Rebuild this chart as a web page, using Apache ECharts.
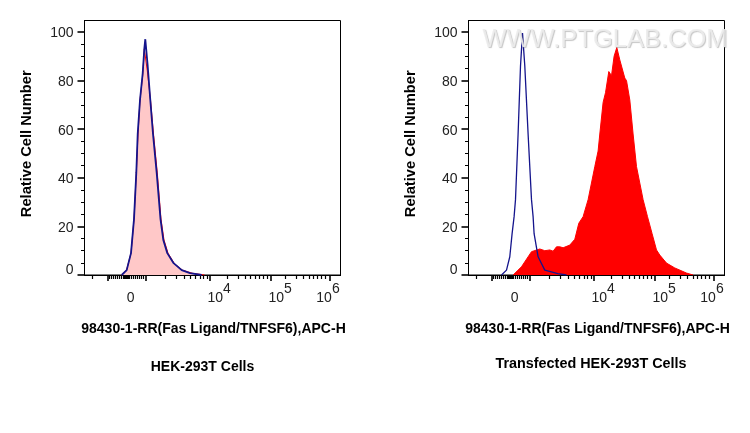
<!DOCTYPE html>
<html>
<head>
<meta charset="UTF-8">
<title>Fas Ligand flow cytometry</title>
<script src="https://cdn.jsdelivr.net/npm/echarts@6/dist/echarts.min.js"></script>
<style>
html, body { margin: 0; padding: 0; background: #fff; }
#main { width: 750px; height: 433px; }
</style>
</head>
<body>
<div id="main"></div>
<script type="text/javascript">
// x values are display channels of the biexponential axis (0-256)
var xMajorTicks = [23.2, 61.5, 125.5, 186.5, 244.8];
var xMinorTicks = [8.2, 25, 27, 29, 31, 33, 35, 37, 39, 40, 41, 42, 43, 44, 45, 47, 49, 51, 53, 55, 57, 59,
    81, 92, 100, 106, 111, 115.5, 119, 122.5,
    143, 154, 161, 166, 171, 175, 179, 183,
    201, 212, 219, 225, 229, 233, 237, 241];
var xLabelPlaces = [46.2, 134.7, 195.7, 243.5];
var xLabels = ['{b|0}', '{b|10}{s|4}', '{b|10}{s|5}', '{b|10}{s|6}'];
var yMajorTicks = [0, 20, 40, 60, 80, 100];
var yMinorTicks = [5, 10, 15, 25, 30, 35, 45, 50, 55, 65, 70, 75, 85, 90, 95];

// left panel: HEK-293T Cells
var leftRedX = [37, 42, 46.5, 49.5, 51.8, 53.5, 55.5, 58.2, 59.8, 62.8, 66, 69, 72.8, 76.5, 79.5, 83.5, 90, 98, 108, 120];
var leftRedY = [0, 2, 9, 23, 42, 58, 72, 82, 93, 84, 72, 58, 42, 23, 14.4, 9, 4.6, 2, 0.7, 0];
var leftBlueX = [37.2, 42.2, 46.5, 49.5, 51.8, 53.2, 55.5, 58.2, 59.8, 60.8, 63.2, 65.8, 68.5, 72.2, 76, 78.8, 82.8, 88.8, 97.2, 105.5, 117.2];
var leftBlueY = [0, 2, 9, 23, 42, 58, 72, 83, 93, 97, 86, 72, 58, 42, 23, 14.4, 9, 5, 2, 0.8, 0];

// right panel: Transfected HEK-293T Cells
var rightRedX = [44.6, 53, 63, 71.3, 76.3, 81.3, 84.6, 88, 91.3, 94.6, 101.3, 106.3, 110.3, 114.6, 119.6, 126.3, 129.6, 131.3, 134.6, 137, 140.3, 143, 145.6, 148.3, 151.3, 153, 156.3, 158, 161.3, 164.6, 168, 174.6, 179, 183.6, 188, 191.3, 198, 206.3, 218, 224.6];
var rightRedY = [0, 3.4, 9.6, 10.7, 10, 10.3, 9.8, 11.6, 11.6, 11.2, 12.3, 14.7, 21.3, 24, 31, 44.6, 51, 58, 71, 75, 83.7, 82, 90, 93.6, 88.5, 88.5, 81, 80, 72, 58, 44.6, 31, 24, 17, 10.3, 8.2, 4.9, 2.9, 0.8, 0];
var rightBlueX = [33, 38, 41.3, 43.6, 45.6, 47, 49.6, 52, 54, 56.3, 59.6, 63, 64.6, 65.6, 69.6, 76.3, 89.3, 98];
var rightBlueY = [0, 2, 7.5, 17, 24, 31, 58, 86, 99.5, 86, 58, 31, 24, 17, 7.5, 2, 0.6, 0];

var axisName = '98430-1-RR(Fas Ligand/TNFSF6),APC-H';
var yName = 'Relative Cell Number';
var tickColor = '#000';
var labelColor = '#222';
var fontName = '"Liberation Sans", Arial, sans-serif';

function pairs(xs, ys) {
    return xs.map(function (x, i) { return [x, ys[i]]; });
}

function xAxes(grid) {
    var base = { type: 'value', gridIndex: grid, min: 0, max: 256, position: 'bottom', z: 3, splitLine: { show: false },
        axisLine: { show: true, lineStyle: { color: tickColor, width: 1 } } };
    return [
        Object.assign({}, base, {
            axisTick: { show: true, length: 6, customValues: xMajorTicks, lineStyle: { color: tickColor, width: 1.6 } },
            axisLabel: { show: false }
        }),
        Object.assign({}, base, {
            axisTick: { show: true, length: 4, customValues: xMinorTicks, lineStyle: { color: tickColor, width: 1.2 } },
            axisLabel: { show: false }
        }),
        Object.assign({}, base, {
            axisTick: { show: false },
            name: axisName,
            nameLocation: 'middle',
            nameGap: 47,
            nameTextStyle: { color: '#000', fontFamily: fontName, fontWeight: 'bold', fontSize: 14, padding: [0, 0, 0, 2] },
            axisLabel: {
                show: true, margin: 6, color: labelColor, fontFamily: fontName, fontSize: 14,
                customValues: xLabelPlaces,
                hideOverlap: false,
                formatter: function (value) { return xLabels[xLabelPlaces.indexOf(value)]; },
                rich: {
                    b: { fontFamily: fontName, fontSize: 14, color: labelColor, padding: [10, 0, 0, 0] },
                    s: { fontFamily: fontName, fontSize: 14, color: labelColor, padding: [0, 0, 8, 0] }
                }
            }
        })
    ];
}

function yAxes(grid) {
    var base = { type: 'value', gridIndex: grid, min: 0, max: 104.7, position: 'left', z: 3, splitLine: { show: false },
        axisLine: { show: true, lineStyle: { color: tickColor, width: 1 } } };
    return [
        Object.assign({}, base, {
            name: yName,
            nameLocation: 'middle',
            nameGap: 50,
            nameTextStyle: { color: '#000', fontFamily: fontName, fontWeight: 'bold', fontSize: 14.7, padding: [0, 0, 0, 8] },
            axisTick: { show: true, length: 7, customValues: yMajorTicks, lineStyle: { color: tickColor, width: 1.6 } },
            axisLabel: {
                show: true, margin: 11, color: labelColor, fontFamily: fontName, fontSize: 14,
                customValues: yMajorTicks,
                formatter: function (value) { return value === 0 ? '{o|0}' : '{n|' + value + '}'; },
                rich: {
                    n: { fontFamily: fontName, fontSize: 14, color: labelColor, padding: [3, 0, 0, 0] },
                    o: { fontFamily: fontName, fontSize: 14, color: labelColor, padding: [0, 0, 9, 0] }
                }
            }
        }),
        Object.assign({}, base, {
            axisTick: { show: true, length: 3.5, customValues: yMinorTicks, lineStyle: { color: tickColor, width: 1 } },
            axisLabel: { show: false }
        })
    ];
}

function areaSeries(axisAt, data, lineColor, fillColor) {
    return {
        type: 'line', xAxisIndex: axisAt.x, yAxisIndex: axisAt.y, data: data, symbol: 'none', smooth: false,
        lineStyle: { color: lineColor, width: 1 }, areaStyle: { color: fillColor, opacity: 1 }
    };
}

function lineSeries(axisAt, data, width) {
    return {
        type: 'line', xAxisIndex: axisAt.x, yAxisIndex: axisAt.y, data: data, symbol: 'none', smooth: false,
        lineStyle: { color: '#14148c', width: width }
    };
}

var option = {
    animation: false,
    backgroundColor: '#fff',
    grid: [
        { left: 84.5, top: 20.5, width: 256, height: 254.5, show: true, borderColor: '#000', borderWidth: 1, backgroundColor: 'transparent' },
        { left: 468.5, top: 20.5, width: 256, height: 254.5, show: true, borderColor: '#000', borderWidth: 1, backgroundColor: 'transparent' }
    ],
    title: [
        { text: 'HEK-293T Cells', left: 202.5, top: 360, padding: 0, textAlign: 'center', textStyle: { fontFamily: fontName, fontWeight: 'bold', fontSize: 14, color: '#000' } },
        { text: 'Transfected HEK-293T Cells', left: 591, top: 357, padding: 0, textAlign: 'center', textStyle: { fontFamily: fontName, fontWeight: 'bold', fontSize: 14.4, color: '#000' } },
        { text: 'WWW.PTGLAB.COM', left: 605, top: 27, padding: 0, textAlign: 'center', z: 20,
            textStyle: { fontFamily: fontName, fontWeight: 'normal', fontSize: 25.5, color: 'rgba(236,236,236,0.9)', textShadowColor: 'rgba(150,150,150,0.6)', textShadowBlur: 1, textShadowOffsetX: 1, textShadowOffsetY: 1 } }
    ],
    xAxis: xAxes(0).concat(xAxes(1)),
    yAxis: yAxes(0).concat(yAxes(1)),
    series: [
        areaSeries({ x: 0, y: 0 }, pairs(leftRedX, leftRedY), '#ff0000', '#ffc8c8'),
        lineSeries({ x: 0, y: 0 }, pairs(leftBlueX, leftBlueY), 1.8),
        areaSeries({ x: 3, y: 2 }, pairs(rightRedX, rightRedY), '#ff0000', '#ff0000'),
        lineSeries({ x: 3, y: 2 }, pairs(rightBlueX, rightBlueY), 1.3)
    ]
};

var myChart = echarts.init(document.getElementById('main'));
myChart.setOption(option);
</script>
</body>
</html>
